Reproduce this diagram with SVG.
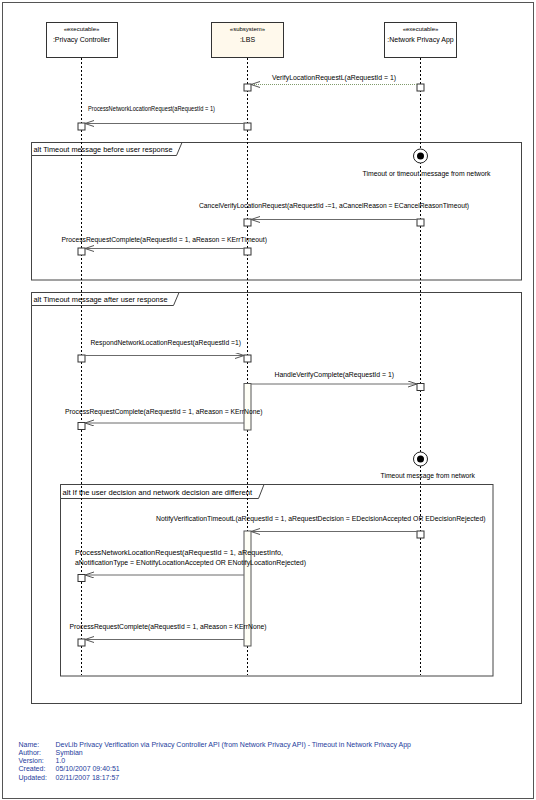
<svg xmlns="http://www.w3.org/2000/svg" width="536" height="800" viewBox="0 0 536 800">
<defs>
<marker id="open" markerWidth="10" markerHeight="8" refX="9" refY="3" orient="auto" markerUnits="userSpaceOnUse">
<path d="M0,0 L9,3 L0,6" fill="none" stroke="#555" stroke-width="1"/>
</marker>
</defs>
<style>
text{font-family:"Liberation Sans",Arial,sans-serif;font-size:7px;fill:#000}
.st{font-size:6px}
.ft{fill:#1d3c9c;font-size:7px}
.head{stroke:#333;stroke-width:1;fill:#fff}
.life{stroke:#000;stroke-width:1;stroke-dasharray:2,2;fill:none}
.box{fill:#fff;stroke:#333;stroke-width:1}
.bar{fill:#fffff6;stroke:#555;stroke-width:1}
.msg{stroke:#6b6b6b;stroke-width:1;fill:none;marker-end:url(#open)}
.dot{stroke:#7f9a6a;stroke-width:1;stroke-dasharray:1,1;fill:none;marker-end:url(#open)}
.frame{fill:none;stroke:#444;stroke-width:1}
.tab{fill:#fff;stroke:#444;stroke-width:1}
</style>
<rect x="2.5" y="2.5" width="531" height="796" fill="#fff" stroke="#555" stroke-width="1"/>

<g id="frame-alt1">
<rect class="frame" x="31.5" y="142.5" width="490" height="137.5"/>
<path class="tab" d="M31.5,142.5 H182 L176.5,155.5 H31.5 Z"/>
<text x="33.5" y="151.5" textLength="139" lengthAdjust="spacingAndGlyphs">alt Timeout message before user response</text>
</g>
<g id="frame-alt2">
<rect class="frame" x="31.5" y="292.5" width="490" height="411"/>
<path class="tab" d="M31.5,292.5 H179 L173.5,305.5 H31.5 Z"/>
<text x="33.5" y="301.5" textLength="134" lengthAdjust="spacingAndGlyphs">alt Timeout message after user response</text>
</g>
<g id="frame-alt3">
<rect class="frame" x="60.5" y="484.5" width="432.5" height="191.5"/>
<path class="tab" d="M60.5,484.5 H264 L258.5,498.5 H60.5 Z"/>
<text x="62.5" y="494.5" textLength="189.5" lengthAdjust="spacingAndGlyphs">alt If the user decision and network decision are different</text>
</g>

<g id="lifelines">
<line class="life" x1="81.5" y1="58" x2="81.5" y2="675"/>
<line class="life" x1="247.5" y1="58" x2="247.5" y2="675"/>
<line class="life" x1="420.5" y1="58" x2="420.5" y2="675"/>
</g>

<g id="privacy-controller">
<rect class="head" x="46.5" y="22.5" width="71" height="35"/>
<text class="st" x="81.5" y="31" text-anchor="middle">«executable»</text>
<text x="81.5" y="42" text-anchor="middle">:Privacy Controller</text>
</g>
<g id="lbs">
<rect class="head" x="211.5" y="22.5" width="72" height="35" style="fill:#fff9ec"/>
<text class="st" x="247.5" y="31" text-anchor="middle">«subsystem»</text>
<text x="247.5" y="42" text-anchor="middle">:LBS</text>
</g>
<g id="network-privacy-app">
<rect class="head" x="384.5" y="22.5" width="72" height="35"/>
<text class="st" x="420.5" y="31" text-anchor="middle">«executable»</text>
<text x="420.5" y="42" text-anchor="middle">:Network Privacy App</text>
</g>

<g id="activations">
<rect class="box" x="244" y="84" width="7" height="7"/>
<rect class="box" x="417" y="84" width="7" height="7"/>
<rect class="box" x="78" y="123" width="7" height="7"/>
<rect class="box" x="244" y="123" width="7" height="7"/>
<rect class="box" x="244" y="219" width="7" height="7"/>
<rect class="box" x="417" y="219" width="7" height="7"/>
<rect class="box" x="78" y="248" width="7" height="7"/>
<rect class="box" x="244" y="248" width="7" height="7"/>
<rect class="box" x="78" y="355" width="7" height="7"/>
<rect class="box" x="244" y="355" width="7" height="7"/>
<rect class="bar" x="244" y="383.5" width="7" height="46.5"/>
<rect class="box" x="417" y="383.5" width="7" height="7"/>
<rect class="box" x="78" y="422.5" width="7" height="7"/>
<rect class="bar" x="244" y="531" width="7" height="115"/>
<rect class="box" x="417" y="531" width="7" height="7"/>
<rect class="box" x="78" y="574.5" width="7" height="7"/>
<rect class="box" x="78" y="639" width="7" height="7"/>
</g>

<g id="timeout-1">
<circle cx="420.5" cy="156" r="7" fill="#fff" stroke="#222" stroke-width="1"/>
<circle cx="420.5" cy="156" r="3.5" fill="#000"/>
<text x="362.5" y="175.5" textLength="128" lengthAdjust="spacingAndGlyphs">Timeout or timeout message from network</text>
</g>
<g id="timeout-2">
<circle cx="420.5" cy="459" r="7" fill="#fff" stroke="#222" stroke-width="1"/>
<circle cx="420.5" cy="459" r="3.5" fill="#000"/>
<text x="380.5" y="477.5" textLength="94.5" lengthAdjust="spacingAndGlyphs">Timeout message from network</text>
</g>

<g id="connectors">
<line class="dot" x1="417" y1="84.5" x2="251" y2="84.5"/>
<text x="272" y="79.5" textLength="124" lengthAdjust="spacingAndGlyphs">VerifyLocationRequestL(aRequestId = 1)</text>
<line class="msg" x1="244" y1="123.5" x2="85" y2="123.5"/>
<text x="88" y="111" textLength="127" lengthAdjust="spacingAndGlyphs">ProcessNetworkLocationRequest(aRequestId = 1)</text>
<line class="msg" x1="417" y1="219.5" x2="251" y2="219.5"/>
<text x="199" y="208" textLength="270" lengthAdjust="spacingAndGlyphs">CancelVerifyLocationRequest(aRequestId -=1, aCancelReason = ECancelReasonTimeout)</text>
<line class="msg" x1="244" y1="248.5" x2="85" y2="248.5"/>
<text x="61.5" y="242" textLength="205.5" lengthAdjust="spacingAndGlyphs">ProcessRequestComplete(aRequestId = 1, aReason = KErrTimeout)</text>
<line class="msg" x1="85" y1="355.5" x2="244" y2="355.5"/>
<text x="90.5" y="344.5" textLength="150.5" lengthAdjust="spacingAndGlyphs">RespondNetworkLocationRequest(aRequestId =1)</text>
<line class="msg" x1="251" y1="384" x2="417" y2="384"/>
<text x="274.5" y="377" textLength="119.5" lengthAdjust="spacingAndGlyphs">HandleVerifyComplete(aRequestId = 1)</text>
<line class="msg" x1="244" y1="423" x2="85" y2="423"/>
<text x="65" y="413.5" textLength="197.5" lengthAdjust="spacingAndGlyphs">ProcessRequestComplete(aRequestId = 1, aReason = KErrNone)</text>
<line class="msg" x1="417" y1="531.5" x2="251" y2="531.5"/>
<text x="156" y="520.5" textLength="329.5" lengthAdjust="spacingAndGlyphs">NotifyVerificationTimeoutL(aRequestId = 1, aRequestDecision = EDecisionAccepted OR EDecisionRejected)</text>
<line class="msg" x1="244" y1="575" x2="85" y2="575"/>
<text x="75" y="554.5" textLength="208" lengthAdjust="spacingAndGlyphs">ProcessNetworkLocationRequest(aRequestId = 1, aRequestInfo,</text>
<text x="75" y="565" textLength="231" lengthAdjust="spacingAndGlyphs">aNotificationType = ENotifyLocationAccepted OR ENotifyLocationRejected)</text>
<line class="msg" x1="244" y1="639.5" x2="85" y2="639.5"/>
<text x="69.5" y="628.5" textLength="197" lengthAdjust="spacingAndGlyphs">ProcessRequestComplete(aRequestId = 1, aReason = KErrNone)</text>
</g>

<g id="footer">
<text class="ft" x="18.5" y="746.5">Name:</text>
<text class="ft" x="55.5" y="746.5" textLength="355.5" lengthAdjust="spacingAndGlyphs">DevLib Privacy Verification via Privacy Controller API (from Network Privacy API) - Timeout in Network Privacy App</text>
<text class="ft" x="18.5" y="754.5">Author:</text>
<text class="ft" x="55.5" y="754.5">Symbian</text>
<text class="ft" x="18.5" y="762.5">Version:</text>
<text class="ft" x="55.5" y="762.5">1.0</text>
<text class="ft" x="18.5" y="771">Created:</text>
<text class="ft" x="55.5" y="771">05/10/2007 09:40:51</text>
<text class="ft" x="18.5" y="779.5">Updated:</text>
<text class="ft" x="55.5" y="779.5">02/11/2007 18:17:57</text>
</g>
</svg>
